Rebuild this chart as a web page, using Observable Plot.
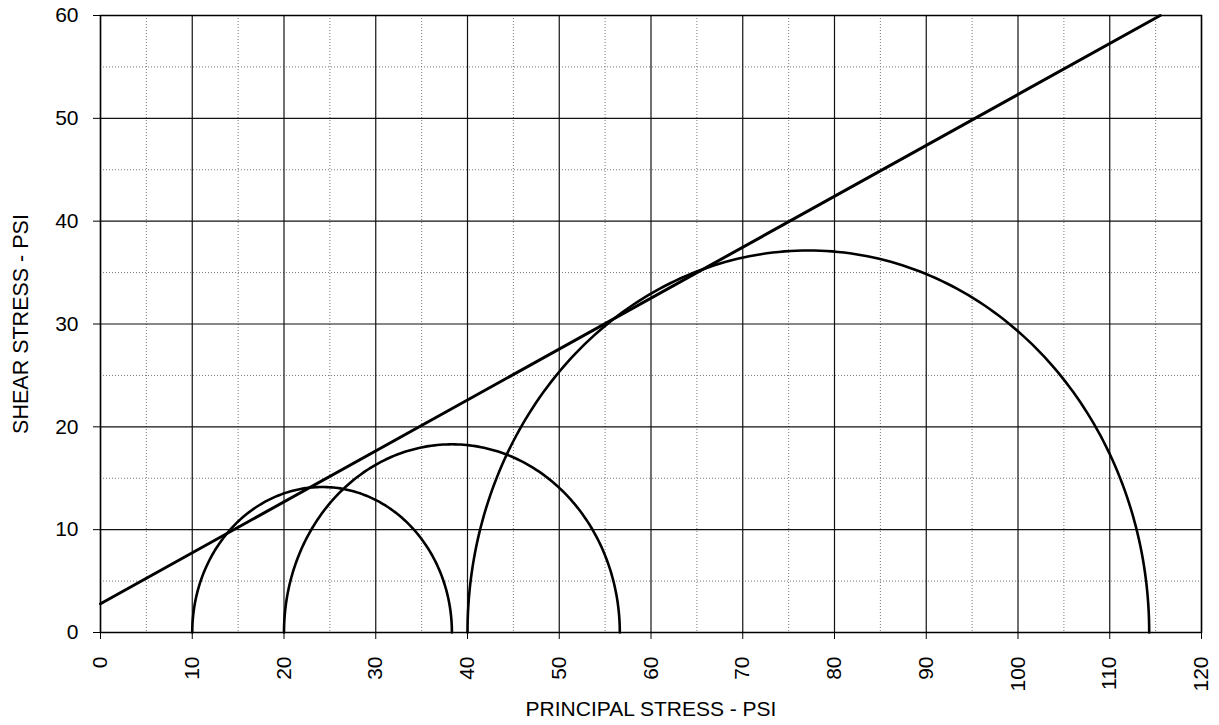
<!DOCTYPE html>
<html>
<head>
<meta charset="utf-8">
<script src="https://cdn.jsdelivr.net/npm/d3@7"></script>
<script src="https://cdn.jsdelivr.net/npm/@observablehq/plot@0.6"></script>
<style>
  html, body { margin: 0; padding: 0; background: #fff; }
  #chart svg { display: block; }
</style>
</head>
<body>
<div id="chart"></div>
<script>
// Mohr circles: left and right principal stresses (PSI)
const circleMinor = [10, 20, 40];
const circleMajor = [38.3, 56.6, 114.3];
// Failure envelope endpoints
const envelopeX = [0, 115.5];
const envelopeY = [2.8, 60];
// Axis ticks
const xTicks = [0, 10, 20, 30, 40, 50, 60, 70, 80, 90, 100, 110, 120];
const yTicks = [0, 10, 20, 30, 40, 50, 60];
const xMinor = [5, 15, 25, 35, 45, 55, 65, 75, 85, 95, 105, 115];
const yMinor = [5, 15, 25, 35, 45, 55];
const xTitle = "PRINCIPAL STRESS - PSI";
const yTitle = "SHEAR STRESS - PSI";

// Build semicircle point tables from each circle's two principal stresses
const circles = [];
circleMinor.forEach((s3, i) => {
  const s1 = circleMajor[i];
  const c = (s1 + s3) / 2, r = (s1 - s3) / 2;
  for (let k = 0; k <= 180; k++) {
    const a = Math.PI * k / 180;
    circles.push({id: i, x: c - r * Math.cos(a), y: r * Math.sin(a)});
  }
});
const envelope = envelopeX.map((x, i) => ({x, y: envelopeY[i]}));

const chart = Plot.plot({
  width: 1219,
  height: 725,
  marginLeft: 100,
  marginRight: 18,
  marginTop: 15,
  marginBottom: 93,
  style: {fontFamily: "'Liberation Sans', Arial, sans-serif", background: "#fff", color: "#000"},
  x: {domain: [0, 120]},
  y: {domain: [0, 60]},
  marks: [
    Plot.ruleX(xMinor, {stroke: "#777", strokeWidth: 1, strokeDasharray: "1,2"}),
    Plot.ruleY(yMinor, {stroke: "#777", strokeWidth: 1, strokeDasharray: "1,2"}),
    Plot.ruleX(xTicks, {stroke: "#111", strokeWidth: 1.2}),
    Plot.ruleY(yTicks, {stroke: "#111", strokeWidth: 1.2}),
    Plot.axisX(xTicks, {tickRotate: -90, tickSize: 7, tickPadding: 17, fontSize: 21, label: null, stroke: "#000"}),
    Plot.axisY(yTicks, {tickSize: 7, tickPadding: 15, fontSize: 21, label: null, stroke: "#000"}),
    Plot.frame({stroke: "#000", strokeWidth: 1.5}),
    Plot.line(circles, {x: "x", y: "y", z: "id", stroke: "#000", strokeWidth: 2.6, curve: "linear"}),
    Plot.line(envelope, {x: "x", y: "y", stroke: "#000", strokeWidth: 3}),
    Plot.text([xTitle], {frameAnchor: "bottom", textAnchor: "middle", lineAnchor: "middle", dy: 77, fontSize: 21, fill: "#000"}),
    Plot.text([yTitle], {frameAnchor: "left", textAnchor: "middle", lineAnchor: "middle", dx: -79, rotate: -90, fontSize: 21.5, fill: "#000"})
  ]
});
document.getElementById("chart").appendChild(chart);
</script>
</body>
</html>
